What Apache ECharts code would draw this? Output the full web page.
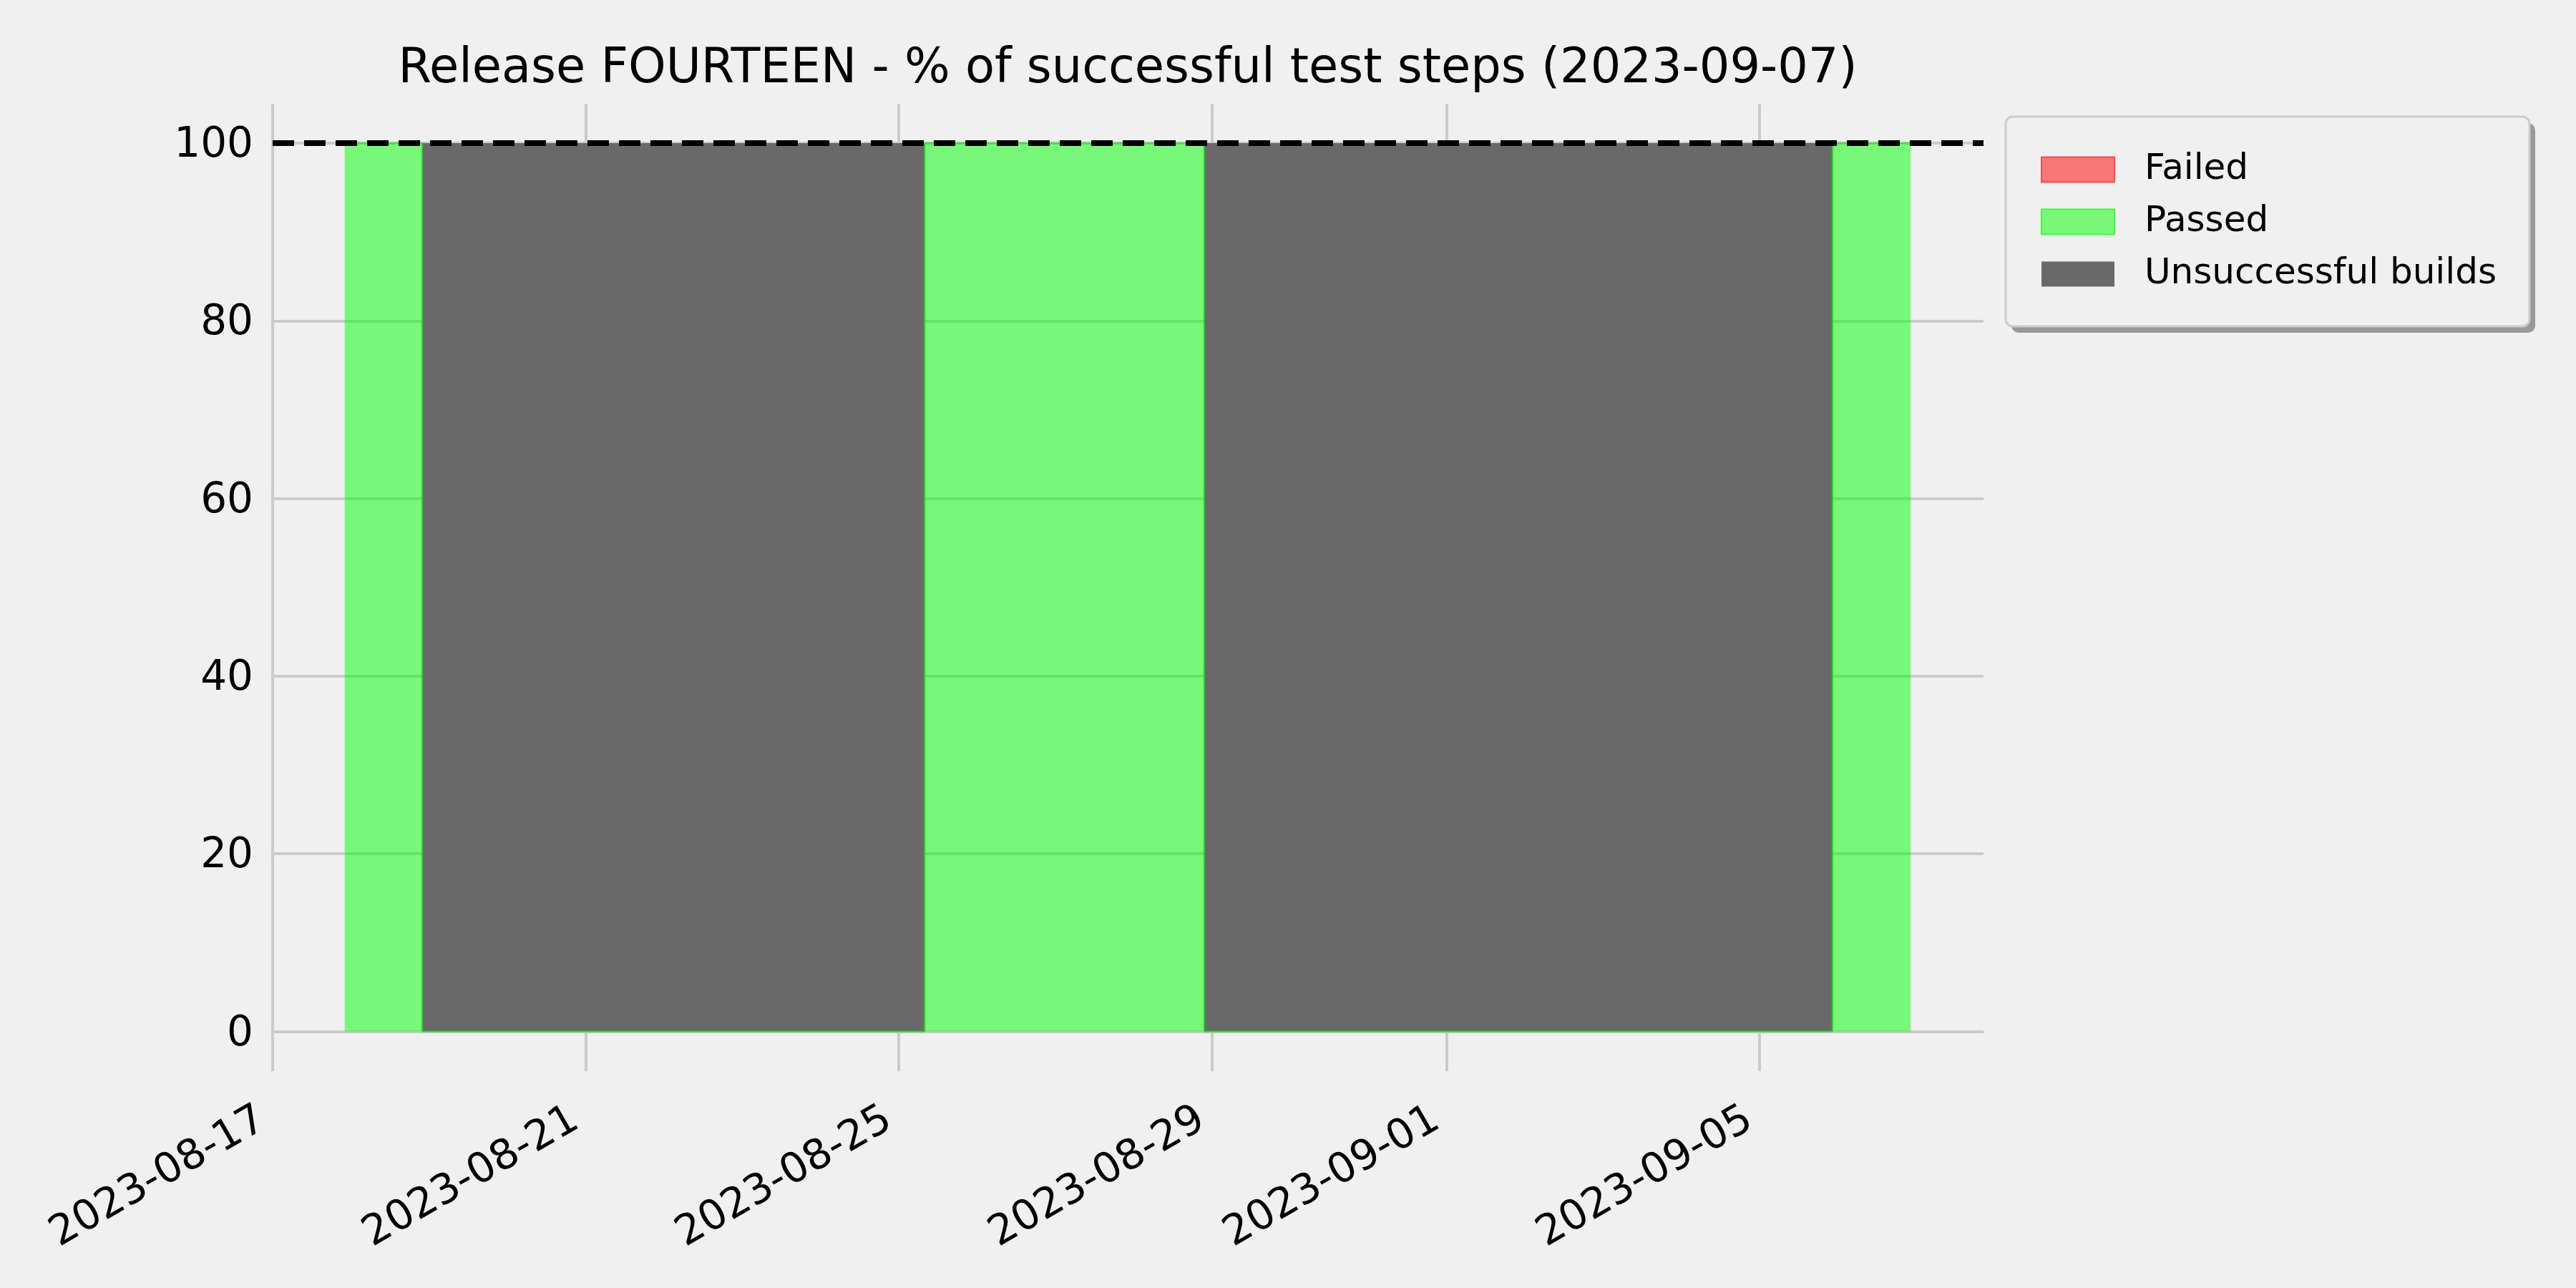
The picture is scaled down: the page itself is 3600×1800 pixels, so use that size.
<!DOCTYPE html>
<html>
<head>
<meta charset="utf-8">
<script src="https://cdn.jsdelivr.net/npm/echarts@6/dist/echarts.min.js"></script>
<style>
  html, body { margin: 0; padding: 0; background: #f0f0f0; }
  #chart { width: 3600px; height: 1800px; }
</style>
</head>
<body>
<div id="chart"></div>
<script>
// ---- data ----
const chartTitle = 'Release FOURTEEN - % of successful test steps (2023-09-07)';
const seriesNames = ['Failed', 'Passed', 'Unsuccessful builds'];
const buildTimes = ['2023-08-17 22:06', '2023-08-18 21:52', '2023-08-25 07:58', '2023-08-28 21:40', '2023-09-05 22:22', '2023-09-06 22:18'];
const failedPct = [0, 0, 0, 0, 0, 0];
const passedPct = [100, 0, 100, 0, 100, 100];
const unsuccessfulPct = [0, 100, 0, 100, 0, 0];
const xTickLabels = ['2023-08-17', '2023-08-21', '2023-08-25', '2023-08-29', '2023-09-01', '2023-09-05'];
const yTickLabels = [0, 20, 40, 60, 80, 100];
const targetLine = 100;
const xRange = ['2023-08-17 00:00', '2023-09-07 20:40'];
const yRange = [-4.47, 104.43];

const FONT = 'DejaVu Sans';
const toPairs = (vals) => buildTimes.map((t, i) => [t, vals[i]]);

const chart = echarts.init(document.getElementById('chart'), null, { renderer: 'canvas', width: 3600, height: 1800 });

const option = {
  animation: false,
  backgroundColor: '#f0f0f0',
  textStyle: { fontFamily: FONT },
  title: {
    text: chartTitle,
    left: 1576,
    textAlign: 'center',
    top: 64,
    padding: 0,
    textStyle: { fontFamily: FONT, fontSize: 67, fontWeight: 'normal', color: '#000' }
  },
  grid: { left: 381, right: 828, top: 145, bottom: 303, containLabel: false },
  xAxis: {
    type: 'time',
    min: xRange[0],
    max: xRange[1],
    axisLine: { show: false },
    axisTick: { show: false, customValues: xTickLabels },
    splitLine: { show: true, lineStyle: { color: '#cbcbcb', width: 4 } },
    axisLabel: {
      customValues: xTickLabels,
      formatter: '{yyyy}-{MM}-{dd}',
      rotate: 30,
      margin: 56,
      padding: [0, 16, 0, 0],
      fontSize: 58,
      fontFamily: FONT,
      color: '#000',
      hideOverlap: false
    }
  },
  yAxis: {
    type: 'value',
    min: yRange[0],
    max: yRange[1],
    axisLine: { show: false },
    axisTick: { show: false, customValues: yTickLabels },
    splitLine: { show: true, lineStyle: { color: '#cbcbcb', width: 4 } },
    axisLabel: {
      customValues: yTickLabels,
      margin: 27,
      formatter: '{t|{value}}',
      rich: { t: { fontSize: 58, fontFamily: FONT, color: '#000', padding: [8, 0, 0, 0] } },
      fontSize: 58,
      fontFamily: FONT,
      color: '#000'
    }
  },
  legend: {
    orient: 'vertical',
    z: 20,
    left: 2852,
    top: 212,
    padding: 0,
    itemWidth: 102,
    itemHeight: 35,
    itemGap: 23,
    selectedMode: false,
    textStyle: { fontFamily: FONT, fontSize: 50, color: '#000', padding: [0, 0, 0, 37] },
    data: [
      { name: seriesNames[0], icon: 'rect', itemStyle: { color: '#f87878', borderColor: '#ff4a4a', borderWidth: 2 } },
      { name: seriesNames[1], icon: 'rect', itemStyle: { color: '#78f778', borderColor: '#3ff93f', borderWidth: 2 } },
      { name: seriesNames[2], icon: 'rect', itemStyle: { color: '#696969', borderColor: '#696969', borderWidth: 0 } }
    ]
  },
  graphic: [
    { type: 'rect', z: 0, silent: true, shape: { x: 2811, y: 172, width: 732, height: 293, r: 10 }, style: { fill: '#999999' } },
    { type: 'rect', z: 1, silent: true, shape: { x: 2803, y: 163, width: 732, height: 293, r: 10 }, style: { fill: '#f0f0f0', stroke: '#cccccc', lineWidth: 3 } }
  ],
  series: [
    {
      name: seriesNames[0], type: 'line', stack: 'total', step: 'end',
      showSymbol: false, symbol: 'none',
      lineStyle: { width: 0, color: 'rgba(255,0,0,0.5)' },
      itemStyle: { color: 'rgba(255,0,0,0.5)' },
      areaStyle: { color: 'rgba(255,0,0,0.5)', opacity: 1 },
      data: toPairs(failedPct)
    },
    {
      name: seriesNames[1], type: 'line', stack: 'total', step: 'end',
      showSymbol: false, symbol: 'none',
      lineStyle: { width: 3, color: 'rgba(0,235,0,0.5)' },
      itemStyle: { color: 'rgba(0,255,0,0.5)' },
      areaStyle: { color: 'rgba(0,255,0,0.5)', opacity: 1 },
      data: toPairs(passedPct)
    },
    {
      name: seriesNames[2], type: 'line', stack: 'total', step: 'end',
      showSymbol: false, symbol: 'none',
      lineStyle: { width: 0, color: '#696969' },
      itemStyle: { color: '#696969' },
      areaStyle: { color: '#696969', opacity: 1 },
      data: toPairs(unsuccessfulPct),
      markLine: {
        silent: true,
        symbol: ['none', 'none'],
        label: { show: false },
        lineStyle: { color: '#000', width: 8, type: [30, 14] },
        data: [{ yAxis: targetLine }]
      }
    }
  ]
};
chart.setOption(option);
</script>
</body>
</html>
